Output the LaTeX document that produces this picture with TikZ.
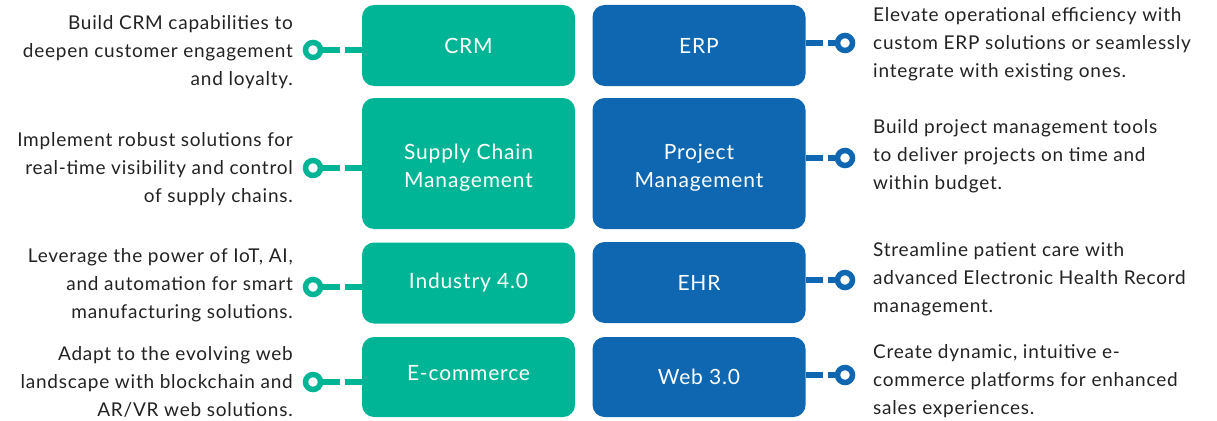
\documentclass[tikz,border=0pt]{standalone}
\usepackage{fontspec}
\setmainfont{Lato}[LetterSpace=4]
\usepackage{tikz}
\usetikzlibrary{positioning}

\definecolor{crmgreen}{HTML}{00B596}
\definecolor{erpblue}{HTML}{0F67B1}
\definecolor{inktext}{HTML}{222222}

\tikzset{
  areabox/.style={fill=#1, rounded corners=12pt, minimum width=213pt, inner sep=0pt,
    text=white, align=center, font=\fontsize{21}{28}\selectfont},
  lefttext/.style={anchor=east, align=right, inner sep=0pt, text=inktext, yshift=-2pt,
    font=\fontsize{19}{28}\selectfont},
  righttext/.style={anchor=west, align=left, inner sep=0pt, text=inktext, yshift=-1.5pt,
    font=\fontsize{19}{28}\selectfont},
  ring/.style={circle, draw=#1, line width=5.5pt, fill=white, minimum size=15pt, inner sep=0pt},
  link/.style={draw=#1, line width=5.5pt, dash pattern=on 17pt off 5pt}
}

\begin{document}
\begin{tikzpicture}[x=1pt, y=-1pt]
\useasboundingbox (0,0) rectangle (1217,420);
% left column
\node[areabox=crmgreen, minimum height=81pt] (crm) at (468.5,45.5) {CRM};
\node[areabox=crmgreen, minimum height=131pt, text height=52pt] (scm) at (468.5,163.5) {Supply Chain\\Management};
\node[areabox=crmgreen, minimum height=81pt] (ind) at (468.5,283) {Industry 4.0};
\node[areabox=crmgreen, minimum height=80pt, text depth=8pt] (ecom) at (468.5,377) {E-commerce};
% right column
\node[areabox=erpblue, minimum height=81pt] (erp) at (699,45.5) {ERP};
\node[areabox=erpblue, minimum height=131pt, text height=52pt] (pm) at (699,163.5) {Project\\Management};
\node[areabox=erpblue, minimum height=81pt] (ehr) at (699,282.5) {EHR};
\node[areabox=erpblue, minimum height=80pt] (web) at (699,377) {Web 3.0};

% rings
\node[ring=crmgreen] (crmdot) at (313,50) {};
\node[ring=crmgreen] (scmdot) at (313,168) {};
\node[ring=crmgreen] (inddot) at (313,287) {};
\node[ring=crmgreen] (ecomdot) at (313,382) {};
\node[ring=erpblue] (erpdot) at (845,43) {};
\node[ring=erpblue] (pmdot) at (845,158) {};
\node[ring=erpblue] (ehrdot) at (845,280) {};
\node[ring=erpblue] (webdot) at (845,375) {};

\foreach \b in {crm,scm,ind,ecom}
  \draw[link=crmgreen] (\b.west |- \b dot) -- (\b dot);
\foreach \b in {erp,pm,ehr,web}
  \draw[link=erpblue] (\b.east |- \b dot) -- (\b dot);

% descriptions
\node[lefttext] (crmtxt) at (293,50) {Build CRM capabilities to\\deepen customer engagement\\and loyalty.};
\node[lefttext] (scmtxt) at (293,167) {Implement robust solutions for\\real-time visibility and control\\of supply chains.};
\node[lefttext] (indtxt) at (293,283) {Leverage the power of IoT, AI,\\and automation for smart\\manufacturing solutions.};
\node[lefttext] (ecomtxt) at (293,380) {Adapt to the evolving web\\landscape with blockchain and\\AR/VR web solutions.};
\node[righttext] (erptxt) at (873,43) {Elevate operational efficiency with\\custom ERP solutions or seamlessly\\integrate with existing ones.};
\node[righttext] (pmtxt) at (873,155) {Build project management tools\\to deliver projects on time and\\within budget.};
\node[righttext] (ehrtxt) at (873,278) {Streamline patient care with\\advanced Electronic Health Record\\management.};
\node[righttext] (webtxt) at (873,380) {Create dynamic, intuitive e-\\commerce platforms for enhanced\\sales experiences.};
\end{tikzpicture}
\end{document}
